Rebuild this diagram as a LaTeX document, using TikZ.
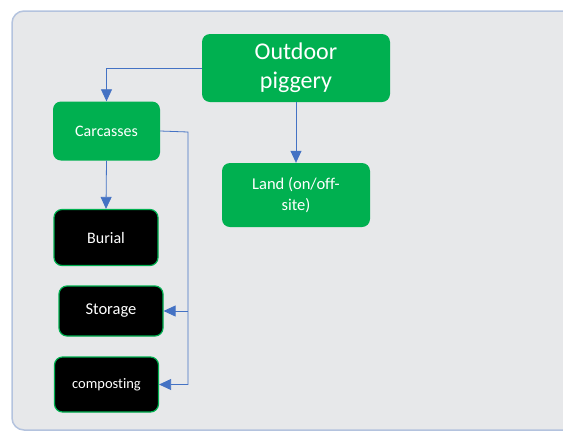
\documentclass[tikz,border=0pt]{standalone}
\usepackage{fontspec}
\setmainfont[Ligatures={NoCommon, NoRare}]{Carlito}
\usepackage{xcolor}
\usetikzlibrary{positioning, arrows.meta}

\definecolor{boxgreen}{HTML}{00B050}
\definecolor{linkblue}{HTML}{4472C4}
\definecolor{panelgray}{HTML}{E7E8EA}
\definecolor{panelline}{HTML}{B4C3DE}

\begin{document}
\begin{tikzpicture}[x=1pt, y=-1pt,
        source/.style={rectangle, rounded corners=8pt, fill=boxgreen, text=white, align=center, inner sep=2pt},
        sink/.style={rectangle, rounded corners=8pt, fill=black, draw=boxgreen, line width=1.2pt, text=white, align=center, inner sep=2pt},
        link/.style={draw=linkblue, line width=0.8pt, -{Triangle[length=12pt, width=11pt]}}]
        \useasboundingbox (0, 0) rectangle (563, 432);
        \draw[panelline, fill=panelgray, line width=1.5pt, rounded corners=12pt] (12, 11) rectangle (600, 430);

        \node[source, minimum width=188pt, minimum height=68pt, font=\fontsize{24}{29}\selectfont] (pig) at (296, 68) {Outdoor\\piggery};
        \node[source, minimum width=107pt, minimum height=59pt, font=\fontsize{16}{19}\selectfont] (car) at (106.5, 131) {Carcasses};
        \node[source, minimum width=148pt, minimum height=64pt, font=\fontsize{16.5}{21}\selectfont] (land) at (296, 195) {Land (on/off-\\site)};
        \node[sink, minimum width=104pt, minimum height=56pt, font=\fontsize{16}{19}\selectfont] (bur) at (106, 237.5) {Burial};
        \node[sink, minimum width=104pt, minimum height=50pt, font=\fontsize{16.5}{19}\selectfont] (sto) at (111, 311) {Storage};
        \node[sink, minimum width=104pt, minimum height=55pt, font=\fontsize{14.5}{17}\selectfont] (com) at (106.5, 384.5) {composting};

        \coordinate (bus) at (188, 132);

        \draw[link] (pig.west) -| (car.north);
        \draw[link] (pig.south) -- (land.north);
        \draw[link] (car.south) -- (bur.north);
        \draw[link] (car.east) -- (bus) |- (com.east);
        \draw[link] (bus |- sto.east) -- (sto.east);
    \end{tikzpicture}
\end{document}
